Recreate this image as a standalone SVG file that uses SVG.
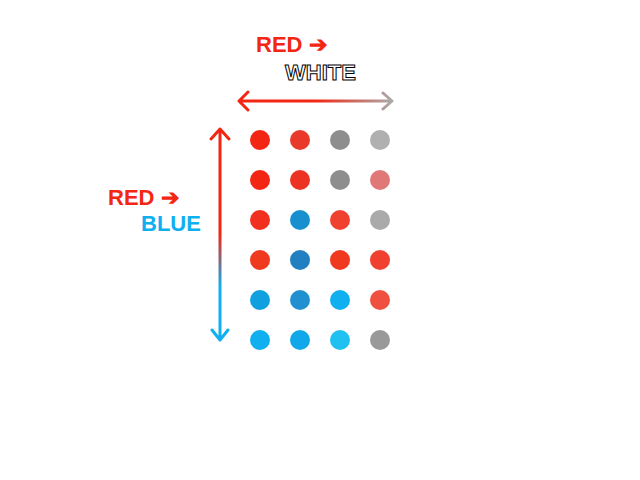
<svg xmlns="http://www.w3.org/2000/svg" width="640" height="480" viewBox="0 0 640 480">
<style>
.t{font-family:"Liberation Sans",sans-serif;font-weight:bold;font-size:22px}
.d{stroke:none}
</style>
<defs>
<linearGradient id="gh" x1="0" x2="1" y1="0" y2="0"><stop offset="0.5" stop-color="#f22613"/><stop offset="1" stop-color="#aaaaaa"/></linearGradient>
<linearGradient id="gv" x1="0" x2="0" y1="0" y2="1"><stop offset="0.5" stop-color="#f22613"/><stop offset="0.75" stop-color="#10b0f0"/></linearGradient>
</defs>
<rect width="640" height="480" fill="#fff"/>
<text class="t" x="256" y="52" fill="#f22613">RED ➔</text>
<text class="t" x="285" y="80" fill="#fff" stroke="#000" stroke-width="1">WHITE</text>
<text class="t" x="108" y="205" fill="#f22613">RED ➔</text>
<text class="t" x="141" y="231" fill="#10b0f0">BLUE</text>
<g id="connectors" fill="none" stroke-width="3" stroke-linecap="round" stroke-linejoin="round">
<path d="M239 101H392M248 92L239 101L248 110M383 93L392 101L383 109" stroke="url(#gh)"/>
<path d="M220 129V340M211 139L220 129L229 139M212 330L220 340L228 330" stroke="url(#gv)"/>
</g>
<g id="dots" class="d">
<circle cx="260" cy="140" r="10" fill="#f22613"/><circle cx="300" cy="140" r="10" fill="#e8392a"/><circle cx="340" cy="140" r="10" fill="#8e8e8e"/><circle cx="380" cy="140" r="10" fill="#b0b0b0"/>
<circle cx="260" cy="180" r="10" fill="#f22613"/><circle cx="300" cy="180" r="10" fill="#ec3222"/><circle cx="340" cy="180" r="10" fill="#8e8e8e"/><circle cx="380" cy="180" r="10" fill="#e07878"/>
<circle cx="260" cy="220" r="10" fill="#f23020"/><circle cx="300" cy="220" r="10" fill="#1890d0"/><circle cx="340" cy="220" r="10" fill="#f04030"/><circle cx="380" cy="220" r="10" fill="#aaaaaa"/>
<circle cx="260" cy="260" r="10" fill="#f03a20"/><circle cx="300" cy="260" r="10" fill="#2080c0"/><circle cx="340" cy="260" r="10" fill="#f03a20"/><circle cx="380" cy="260" r="10" fill="#f04030"/>
<circle cx="260" cy="300" r="10" fill="#10a0e0"/><circle cx="300" cy="300" r="10" fill="#2090d0"/><circle cx="340" cy="300" r="10" fill="#10b0f0"/><circle cx="380" cy="300" r="10" fill="#f05040"/>
<circle cx="260" cy="340" r="10" fill="#10b0f0"/><circle cx="300" cy="340" r="10" fill="#10a8e8"/><circle cx="340" cy="340" r="10" fill="#20c0f0"/><circle cx="380" cy="340" r="10" fill="#999999"/>
</g>
</svg>
